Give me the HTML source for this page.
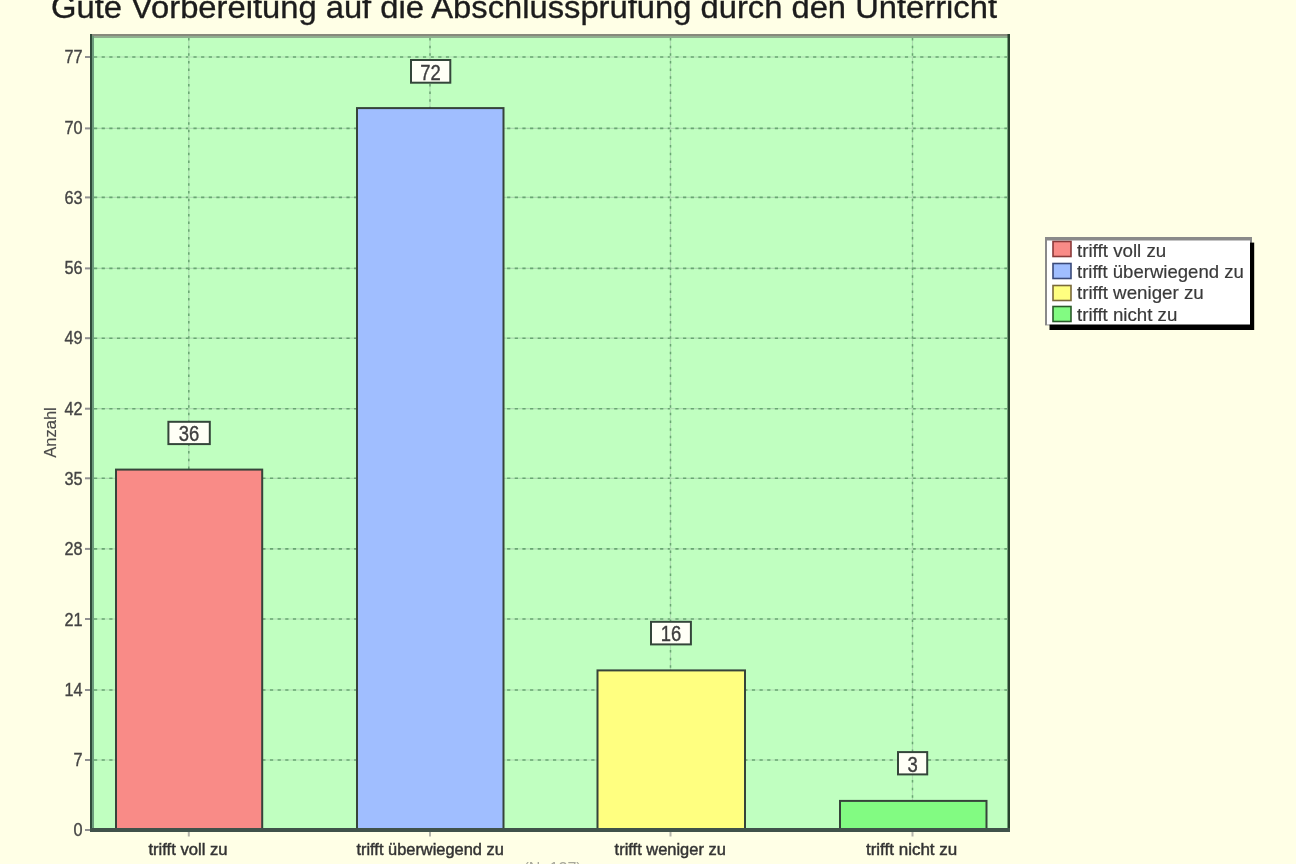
<!DOCTYPE html>
<html><head><meta charset="utf-8"><style>
html,body{margin:0;padding:0;background:#FFFFE6;width:1296px;height:864px;overflow:hidden}
svg{display:block;font-family:"Liberation Sans",sans-serif;filter:blur(0.5px)}
</style></head><body>
<svg width="1296" height="864" viewBox="0 0 1296 864">
<rect x="0" y="0" width="1296" height="864" fill="#FFFFE6"/>
<text x="51" y="18" font-size="31.5" fill="#1c1c1c" stroke="#1c1c1c" stroke-width="0.35" textLength="946" lengthAdjust="spacingAndGlyphs">Gute Vorbereitung auf die Abschlussprüfung durch den Unterricht</text>
<rect x="92" y="36" width="917" height="794" fill="#C0FFC0"/>
<line x1="94" y1="760.0" x2="1007" y2="760.0" stroke="#ADDCB0" stroke-width="1.2"/>
<line x1="94" y1="760.0" x2="1007" y2="760.0" stroke="#68A672" stroke-width="1.6" stroke-dasharray="3.2 4.45"/>
<line x1="94" y1="690.0" x2="1007" y2="690.0" stroke="#ADDCB0" stroke-width="1.2"/>
<line x1="94" y1="690.0" x2="1007" y2="690.0" stroke="#68A672" stroke-width="1.6" stroke-dasharray="3.2 4.45"/>
<line x1="94" y1="619.0" x2="1007" y2="619.0" stroke="#ADDCB0" stroke-width="1.2"/>
<line x1="94" y1="619.0" x2="1007" y2="619.0" stroke="#68A672" stroke-width="1.6" stroke-dasharray="3.2 4.45"/>
<line x1="94" y1="548.9" x2="1007" y2="548.9" stroke="#ADDCB0" stroke-width="1.2"/>
<line x1="94" y1="548.9" x2="1007" y2="548.9" stroke="#68A672" stroke-width="1.6" stroke-dasharray="3.2 4.45"/>
<line x1="94" y1="478.3" x2="1007" y2="478.3" stroke="#ADDCB0" stroke-width="1.2"/>
<line x1="94" y1="478.3" x2="1007" y2="478.3" stroke="#68A672" stroke-width="1.6" stroke-dasharray="3.2 4.45"/>
<line x1="94" y1="408.7" x2="1007" y2="408.7" stroke="#ADDCB0" stroke-width="1.2"/>
<line x1="94" y1="408.7" x2="1007" y2="408.7" stroke="#68A672" stroke-width="1.6" stroke-dasharray="3.2 4.45"/>
<line x1="94" y1="338.2" x2="1007" y2="338.2" stroke="#ADDCB0" stroke-width="1.2"/>
<line x1="94" y1="338.2" x2="1007" y2="338.2" stroke="#68A672" stroke-width="1.6" stroke-dasharray="3.2 4.45"/>
<line x1="94" y1="268.4" x2="1007" y2="268.4" stroke="#ADDCB0" stroke-width="1.2"/>
<line x1="94" y1="268.4" x2="1007" y2="268.4" stroke="#68A672" stroke-width="1.6" stroke-dasharray="3.2 4.45"/>
<line x1="94" y1="197.4" x2="1007" y2="197.4" stroke="#ADDCB0" stroke-width="1.2"/>
<line x1="94" y1="197.4" x2="1007" y2="197.4" stroke="#68A672" stroke-width="1.6" stroke-dasharray="3.2 4.45"/>
<line x1="94" y1="128.4" x2="1007" y2="128.4" stroke="#ADDCB0" stroke-width="1.2"/>
<line x1="94" y1="128.4" x2="1007" y2="128.4" stroke="#68A672" stroke-width="1.6" stroke-dasharray="3.2 4.45"/>
<line x1="94" y1="57.0" x2="1007" y2="57.0" stroke="#ADDCB0" stroke-width="1.2"/>
<line x1="94" y1="57.0" x2="1007" y2="57.0" stroke="#68A672" stroke-width="1.6" stroke-dasharray="3.2 4.45"/>
<line x1="188.8" y1="38" x2="188.8" y2="828" stroke="#ADDCB0" stroke-width="1.2"/>
<line x1="188.8" y1="38" x2="188.8" y2="828" stroke="#68A672" stroke-width="1.5" stroke-dasharray="2.5 5.15"/>
<line x1="430" y1="38" x2="430" y2="828" stroke="#ADDCB0" stroke-width="1.2"/>
<line x1="430" y1="38" x2="430" y2="828" stroke="#68A672" stroke-width="1.5" stroke-dasharray="2.5 5.15"/>
<line x1="670.5" y1="38" x2="670.5" y2="828" stroke="#ADDCB0" stroke-width="1.2"/>
<line x1="670.5" y1="38" x2="670.5" y2="828" stroke="#68A672" stroke-width="1.5" stroke-dasharray="2.5 5.15"/>
<line x1="912.5" y1="38" x2="912.5" y2="828" stroke="#ADDCB0" stroke-width="1.2"/>
<line x1="912.5" y1="38" x2="912.5" y2="828" stroke="#68A672" stroke-width="1.5" stroke-dasharray="2.5 5.15"/>
<rect x="116" y="469.6" width="146.2" height="360.4" fill="#F98B87" stroke="#36443a" stroke-width="2"/>
<rect x="357" y="108.1" width="146.5" height="721.9" fill="#A0BEFF" stroke="#36443a" stroke-width="2"/>
<rect x="597.5" y="670.4" width="147.5" height="159.6" fill="#FFFF80" stroke="#36443a" stroke-width="2"/>
<rect x="840" y="800.9" width="146.5" height="29.1" fill="#82FB82" stroke="#36443a" stroke-width="2"/>
<rect x="168.4" y="421.8" width="41.400000000000006" height="22.3" fill="#FFFFF6" stroke="#34463a" stroke-width="2"/>
<text transform="translate(189.1,441.3) scale(0.82,1)" font-size="22.5" fill="#3e3e3e" stroke="#3e3e3e" stroke-width="0.4" text-anchor="middle">36</text>
<rect x="411" y="60.0" width="39.30000000000001" height="22.7" fill="#FFFFF6" stroke="#34463a" stroke-width="2"/>
<text transform="translate(430.6,79.5) scale(0.82,1)" font-size="22.5" fill="#3e3e3e" stroke="#3e3e3e" stroke-width="0.4" text-anchor="middle">72</text>
<rect x="651" y="621.8" width="39.89999999999998" height="22.6" fill="#FFFFF6" stroke="#34463a" stroke-width="2"/>
<text transform="translate(671.0,641.3) scale(0.82,1)" font-size="22.5" fill="#3e3e3e" stroke="#3e3e3e" stroke-width="0.4" text-anchor="middle">16</text>
<rect x="898" y="752.1" width="29.200000000000045" height="22.3" fill="#FFFFF6" stroke="#34463a" stroke-width="2"/>
<text transform="translate(912.6,771.6) scale(0.82,1)" font-size="22.5" fill="#3e3e3e" stroke="#3e3e3e" stroke-width="0.4" text-anchor="middle">3</text>
<rect x="90" y="34" width="919" height="2" fill="#878a7c"/>
<rect x="90" y="36" width="919" height="2" fill="#8fae8f"/>
<rect x="90" y="34" width="2" height="798" fill="#2f4b3b"/>
<rect x="92" y="36" width="2" height="794" fill="#6c9c7c"/>
<rect x="1007.5" y="34" width="2.5" height="798" fill="#27412d"/>
<rect x="90" y="828" width="920" height="4" fill="#40524a"/>
<text transform="translate(82.5,836.3) scale(0.93,1)" font-size="17.5" fill="#444" stroke="#444" stroke-width="0.35" text-anchor="end">0</text>
<rect x="85" y="829.0" width="5" height="2" fill="#909090"/>
<text transform="translate(82.5,766.0) scale(0.93,1)" font-size="17.5" fill="#444" stroke="#444" stroke-width="0.35" text-anchor="end">7</text>
<rect x="85" y="759.0" width="5" height="2" fill="#909090"/>
<text transform="translate(82.5,695.7) scale(0.93,1)" font-size="17.5" fill="#444" stroke="#444" stroke-width="0.35" text-anchor="end">14</text>
<rect x="85" y="689.0" width="5" height="2" fill="#909090"/>
<text transform="translate(82.5,625.5) scale(0.93,1)" font-size="17.5" fill="#444" stroke="#444" stroke-width="0.35" text-anchor="end">21</text>
<rect x="85" y="618.0" width="5" height="2" fill="#909090"/>
<text transform="translate(82.5,555.2) scale(0.93,1)" font-size="17.5" fill="#444" stroke="#444" stroke-width="0.35" text-anchor="end">28</text>
<rect x="85" y="547.9" width="5" height="2" fill="#909090"/>
<text transform="translate(82.5,484.9) scale(0.93,1)" font-size="17.5" fill="#444" stroke="#444" stroke-width="0.35" text-anchor="end">35</text>
<rect x="85" y="477.3" width="5" height="2" fill="#909090"/>
<text transform="translate(82.5,414.6) scale(0.93,1)" font-size="17.5" fill="#444" stroke="#444" stroke-width="0.35" text-anchor="end">42</text>
<rect x="85" y="407.7" width="5" height="2" fill="#909090"/>
<text transform="translate(82.5,344.3) scale(0.93,1)" font-size="17.5" fill="#444" stroke="#444" stroke-width="0.35" text-anchor="end">49</text>
<rect x="85" y="337.2" width="5" height="2" fill="#909090"/>
<text transform="translate(82.5,274.1) scale(0.93,1)" font-size="17.5" fill="#444" stroke="#444" stroke-width="0.35" text-anchor="end">56</text>
<rect x="85" y="267.4" width="5" height="2" fill="#909090"/>
<text transform="translate(82.5,203.8) scale(0.93,1)" font-size="17.5" fill="#444" stroke="#444" stroke-width="0.35" text-anchor="end">63</text>
<rect x="85" y="196.4" width="5" height="2" fill="#909090"/>
<text transform="translate(82.5,133.5) scale(0.93,1)" font-size="17.5" fill="#444" stroke="#444" stroke-width="0.35" text-anchor="end">70</text>
<rect x="85" y="127.4" width="5" height="2" fill="#909090"/>
<text transform="translate(82.5,63.2) scale(0.93,1)" font-size="17.5" fill="#444" stroke="#444" stroke-width="0.35" text-anchor="end">77</text>
<rect x="85" y="56.0" width="5" height="2" fill="#909090"/>
<rect x="187.8" y="832" width="2" height="4.5" fill="#b4b4aa"/>
<text transform="translate(188.0,855)" font-size="16.8" fill="#333" stroke="#333" stroke-width="0.45" text-anchor="middle" textLength="79.2" lengthAdjust="spacingAndGlyphs">trifft voll zu</text>
<rect x="429" y="832" width="2" height="4.5" fill="#b4b4aa"/>
<text transform="translate(430.1,855)" font-size="16.8" fill="#333" stroke="#333" stroke-width="0.45" text-anchor="middle" textLength="147.3" lengthAdjust="spacingAndGlyphs">trifft überwiegend zu</text>
<rect x="669.5" y="832" width="2" height="4.5" fill="#b4b4aa"/>
<text transform="translate(670.2,855)" font-size="16.8" fill="#333" stroke="#333" stroke-width="0.45" text-anchor="middle" textLength="111.2" lengthAdjust="spacingAndGlyphs">trifft weniger zu</text>
<rect x="911.5" y="832" width="2" height="4.5" fill="#b4b4aa"/>
<text transform="translate(911.6,855)" font-size="16.8" fill="#333" stroke="#333" stroke-width="0.45" text-anchor="middle" textLength="91.3" lengthAdjust="spacingAndGlyphs">trifft nicht zu</text>
<text transform="translate(56,432.5) rotate(-90)" font-size="16.5" fill="#4a4a4a" stroke="#4a4a4a" stroke-width="0.15" text-anchor="middle">Anzahl</text>
<text x="552.5" y="874" font-size="16" fill="#a8a89c" text-anchor="middle">(N=127)</text>
<rect x="1045" y="237" width="207" height="88.4" fill="#8a8a8a"/>
<rect x="1049.5" y="242.6" width="204.7" height="87.4" fill="#000"/>
<rect x="1047" y="240.5" width="203" height="84" fill="#FFFFFF"/>
<rect x="1053" y="241.5" width="18" height="15" fill="#F98B87" stroke="#8a3a3a" stroke-width="1.6"/>
<text x="1077" y="256.7" font-size="18.5" fill="#3a3a3a" stroke="#3a3a3a" stroke-width="0.2" textLength="89.3" lengthAdjust="spacingAndGlyphs">trifft voll zu</text>
<rect x="1053" y="263.5" width="18" height="15" fill="#A0BEFF" stroke="#3a4a7a" stroke-width="1.6"/>
<text x="1077" y="277.5" font-size="18.5" fill="#3a3a3a" stroke="#3a3a3a" stroke-width="0.2" textLength="166.8" lengthAdjust="spacingAndGlyphs">trifft überwiegend zu</text>
<rect x="1053" y="285.5" width="18" height="15" fill="#FFFF80" stroke="#7a6a3a" stroke-width="1.6"/>
<text x="1077" y="298.8" font-size="18.5" fill="#3a3a3a" stroke="#3a3a3a" stroke-width="0.2" textLength="126.8" lengthAdjust="spacingAndGlyphs">trifft weniger zu</text>
<rect x="1053" y="306.5" width="18" height="15" fill="#82FB82" stroke="#2a5a2a" stroke-width="1.6"/>
<text x="1077" y="321" font-size="18.5" fill="#3a3a3a" stroke="#3a3a3a" stroke-width="0.2" textLength="100.3" lengthAdjust="spacingAndGlyphs">trifft nicht zu</text>
</svg>
</body></html>
